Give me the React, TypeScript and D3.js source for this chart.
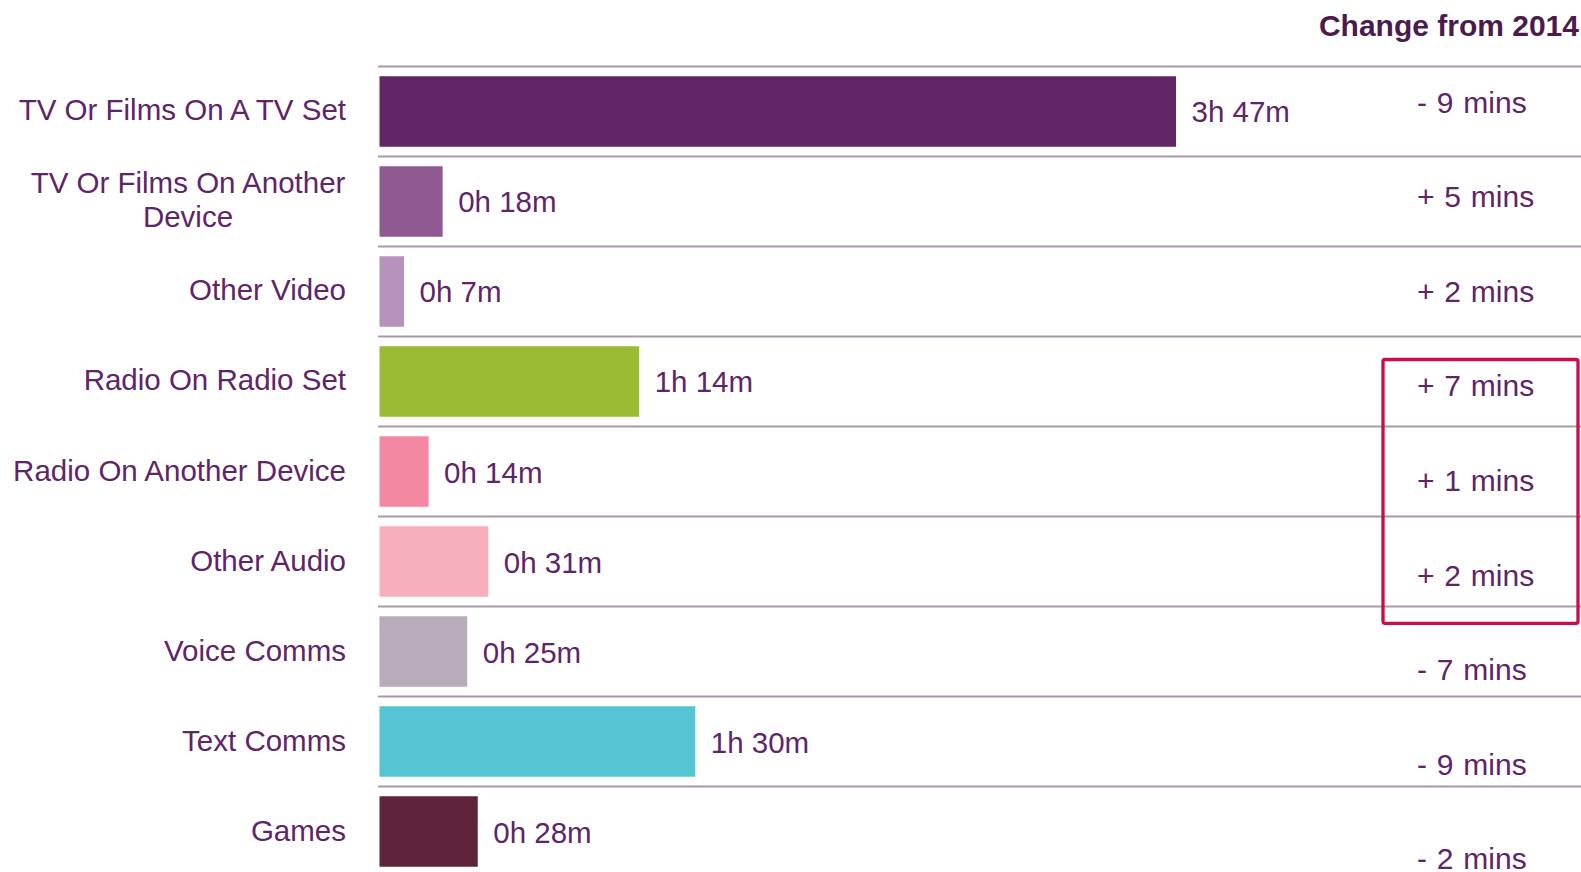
import React from "react";
import * as d3 from "d3";

const categories = [
  "TV Or Films On A TV Set",
  "TV Or Films On Another Device",
  "Other Video",
  "Radio On Radio Set",
  "Radio On Another Device",
  "Other Audio",
  "Voice Comms",
  "Text Comms",
  "Games",
];
const minutes = [227, 18, 7, 74, 14, 31, 25, 90, 28];
const changes = [-9, 5, 2, 7, 1, 2, -7, -9, -2];
const colors = [
  "#622567",
  "#8e5a91",
  "#b692bc",
  "#9bbc32",
  "#f388a3",
  "#f7aebd",
  "#b9abb9",
  "#55c4d3",
  "#5d243c",
];
const highlighted = ["Radio On Radio Set", "Radio On Another Device", "Other Audio"];
const headerText = "Change from 2014";

const W = 1581;
const H = 872;
const TEXT = "#602468";
const FONT = "'Liberation Sans', Arial, sans-serif";

function fmtTime(m: number) {
  return `${Math.floor(m / 60)}h ${m % 60}m`;
}
function fmtChange(c: number) {
  return `${c < 0 ? "-" : "+"} ${Math.abs(c)} mins`;
}
function splitLabel(s: string): string[] {
  if (s.length <= 25) return [s];
  const i = s.lastIndexOf(" ");
  return [s.slice(0, i), s.slice(i + 1)];
}

export default function App() {
  const y = d3
    .scaleBand<string>()
    .domain(categories)
    .range([66.5, 66.5 + 90 * categories.length])
    .paddingInner(0.2167)
    .paddingOuter(0.1083);
  const step = y.step();
  const bw = y.bandwidth();
  const x = d3.scaleLinear().domain([0, 227]).range([379.5, 1176]);

  const cy = d3
    .scaleBand<string>()
    .domain(categories)
    .range([54.2, 54.2 + 94.6 * categories.length]);

  const hTop = (cy(highlighted[0]) as number) + 21.5;
  const hBot = (cy(highlighted[highlighted.length - 1]) as number) + cy.step() + 1.5;

  return (
    <svg
      width={W}
      height={H}
      style={{ position: "absolute", left: 0, top: 0, background: "#fff" }}
      fontFamily={FONT}
    >
      <text
        x={1579}
        y={36}
        textAnchor="end"
        fontSize={30}
        fontWeight="bold"
        fill="#4b1b4d"
      >
        {headerText}
      </text>
      {categories.map((c, i) => {
        const top = (y(c) as number) - (step - bw) / 2;
        const mid = (y(c) as number) + bw / 2;
        const lines = splitLabel(c);
        return (
          <g key={c}>
            <line x1={378} x2={W} y1={top} y2={top} stroke="#a899ab" strokeWidth={2.2} />
            <rect x={x(0)} y={y(c)} width={x(minutes[i]) - x(0)} height={bw} fill={colors[i]} />
            {lines.length === 1 ? (
              <text x={346} y={mid + 9} textAnchor="end" fontSize={29.5} fill={TEXT}>
                {lines[0]}
              </text>
            ) : (
              lines.map((l, j) => (
                <text
                  key={j}
                  x={188}
                  y={mid - 8.5 + j * 34}
                  textAnchor="middle"
                  fontSize={29.5}
                  fill={TEXT}
                >
                  {l}
                </text>
              ))
            )}
            <text x={x(minutes[i]) + 15.5} y={mid + 11} fontSize={29.5} fill={TEXT}>
              {fmtTime(minutes[i])}
            </text>
            <text
              x={1417}
              y={(cy(c) as number) + cy.bandwidth() / 2 + 11}
              fontSize={30}
              wordSpacing={1.5}
              fill={TEXT}
            >
              {fmtChange(changes[i])}
            </text>
          </g>
        );
      })}
      <rect
        x={1383}
        y={hTop}
        width={195}
        height={hBot - hTop}
        rx={2}
        fill="none"
        stroke="#cc0a4c"
        strokeWidth={3.3}
      />
    </svg>
  );
}
